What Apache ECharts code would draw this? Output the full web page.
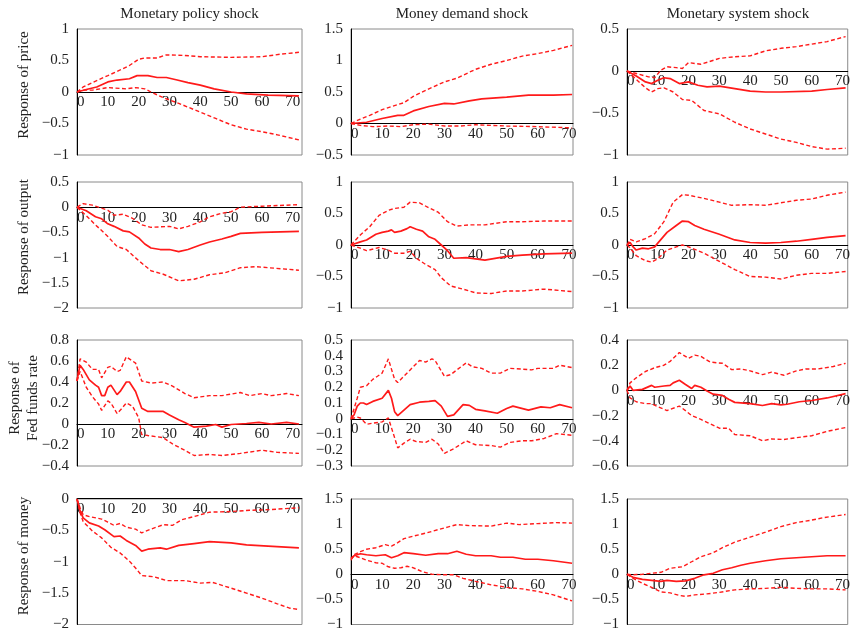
<!DOCTYPE html>
<html><head><meta charset="utf-8">
<script src="https://cdn.jsdelivr.net/npm/echarts@6/dist/echarts.min.js"></script>
<style>html,body{margin:0;padding:0;background:#fff}#c{width:853px;height:632px}</style>
</head><body><div id="c"></div><script>
const colTitles = ['Monetary policy shock', 'Money demand shock', 'Monetary system shock'];
const rowLabels = ['Response of price', 'Response of output', 'Response of\nFed funds rate', 'Response of money'];
const xTickStep = 10;
// y-axis [min, max, interval] per row/column
const yScales = [
  [[-1, 1, 0.5], [-0.5, 1.5, 0.5], [-1, 0.5, 0.5]],
  [[-2, 0.5, 0.5], [-1, 1, 0.5], [-1, 1, 0.5]],
  [[-0.4, 0.8, 0.2], [-0.3, 0.5, 0.1], [-0.6, 0.4, 0.2]],
  [[-2, 0, 0.5], [-1, 1.5, 0.5], [-1, 1.5, 0.5]]
];
const xMax = [73, 71.3, 71.7];

// ---- Response of price ----
const pricePolicyMid = [[0,0],[3,0.04],[6.4,0.08],[10,0.16],[13,0.19],[17,0.21],[19.5,0.26],[23,0.26],[26,0.23],[29,0.23],[32.5,0.19],[36,0.15],[40,0.11],[44.5,0.05],[50,0],[55,-0.03],[62,-0.05],[72,-0.06]];
const pricePolicyUp = [[0,0],[2,0.08],[5,0.15],[10,0.26],[14,0.35],[17,0.42],[20,0.52],[22,0.54],[26,0.54],[29,0.59],[35,0.58],[40,0.56],[50,0.55],[60,0.56],[66,0.6],[72,0.63]];
const pricePolicyLo = [[0,0],[2,0.03],[5,0.03],[10,0.07],[16,0.05],[19,0.07],[22,0.05],[24,0],[28,-0.09],[33,-0.18],[40,-0.32],[45,-0.42],[50,-0.52],[55,-0.59],[60,-0.63],[65,-0.68],[72,-0.76]];

const priceDemandMid = [[0,0],[5,0.02],[10,0.08],[15,0.13],[17,0.13],[20,0.2],[25,0.27],[30,0.32],[33,0.31],[38,0.36],[42,0.39],[50,0.42],[57,0.45],[65,0.45],[71,0.46]];
const priceDemandUp = [[0,0],[3,0.07],[6,0.13],[10,0.22],[15,0.3],[17,0.33],[20,0.43],[25,0.55],[30,0.66],[34,0.72],[40,0.86],[45,0.94],[50,1.0],[55,1.07],[60,1.11],[65,1.16],[71,1.24]];
const priceDemandLo = [[0,0],[3,-0.03],[7,-0.05],[12,-0.04],[16,-0.05],[20,-0.02],[25,-0.01],[30,-0.04],[35,-0.04],[40,-0.02],[45,-0.03],[50,-0.04],[60,-0.05],[71,-0.07]];

const priceSystemMid = [[0,0],[3,-0.06],[6,-0.13],[8,-0.15],[10,-0.11],[12,-0.08],[14,-0.09],[17,-0.15],[20,-0.13],[23,-0.17],[26,-0.19],[30,-0.18],[35,-0.21],[40,-0.24],[45,-0.25],[50,-0.25],[60,-0.24],[65,-0.22],[71,-0.2]];
const priceSystemUp = [[0,0],[3,-0.03],[7,-0.07],[9,-0.08],[11,0.01],[13,0.05],[16,0.04],[18,0.03],[20,0.1],[24,0.08],[30,0.15],[35,0.17],[40,0.18],[45,0.24],[50,0.27],[55,0.29],[60,0.32],[65,0.35],[71,0.41]];
const priceSystemLo = [[0,0],[3,-0.1],[6,-0.2],[8,-0.25],[10,-0.21],[12,-0.2],[15,-0.25],[18,-0.34],[21,-0.35],[25,-0.47],[30,-0.51],[35,-0.61],[40,-0.69],[45,-0.75],[50,-0.81],[55,-0.85],[60,-0.9],[65,-0.93],[71,-0.92]];

// ---- Response of output ----
const outputPolicyMid = [[0,0],[3,-0.07],[6,-0.19],[8,-0.23],[10,-0.33],[12,-0.38],[15,-0.47],[17,-0.49],[20,-0.61],[22,-0.73],[24,-0.81],[27,-0.84],[30,-0.84],[33,-0.88],[36,-0.84],[40,-0.75],[43,-0.69],[47,-0.63],[50,-0.58],[53,-0.52],[60,-0.5],[72,-0.48]];
const outputPolicyUp = [[0,0],[2,0.07],[5,0.04],[10,-0.06],[12,-0.16],[15,-0.14],[18,-0.22],[21,-0.35],[24,-0.4],[30,-0.38],[33,-0.43],[36,-0.38],[40,-0.29],[43,-0.19],[47,-0.12],[50,-0.09],[53,0],[60,0.02],[72,0.05]];
const outputPolicyLo = [[0,0],[3,-0.17],[6,-0.35],[10,-0.58],[13,-0.78],[16,-0.84],[20,-1.06],[24,-1.26],[28,-1.33],[33,-1.46],[38,-1.43],[43,-1.34],[48,-1.3],[53,-1.2],[58,-1.18],[64,-1.21],[72,-1.25]];

const outputDemandMid = [[0,0],[3,0.05],[5,0.08],[8,0.17],[10,0.2],[12,0.22],[13,0.24],[14,0.2],[16,0.22],[18,0.26],[19,0.29],[21,0.25],[23,0.22],[25,0.13],[27,0.09],[29,0],[31,-0.09],[33,-0.21],[37,-0.2],[43,-0.24],[50,-0.18],[55,-0.16],[62,-0.14],[71,-0.13]];
const outputDemandUp = [[0,0],[3,0.16],[6,0.29],[9,0.47],[12,0.55],[14,0.58],[17,0.6],[19,0.68],[22,0.67],[25,0.59],[28,0.52],[31,0.37],[34,0.3],[38,0.32],[43,0.32],[50,0.37],[55,0.37],[62,0.38],[71,0.38]];
const outputDemandLo = [[0,0],[3,-0.05],[5,-0.09],[9,-0.04],[12,-0.08],[14,-0.13],[17,-0.13],[19,-0.1],[21,-0.21],[24,-0.31],[27,-0.39],[29,-0.52],[32,-0.65],[36,-0.7],[40,-0.76],[45,-0.77],[50,-0.73],[55,-0.73],[62,-0.7],[71,-0.74]];

const outputSystemMid = [[0,0],[1,0.04],[2,-0.03],[3,-0.08],[5,-0.05],[7,-0.06],[9,-0.03],[10,0.03],[13,0.2],[16,0.31],[18,0.38],[20,0.37],[22,0.31],[25,0.25],[30,0.17],[35,0.08],[40,0.04],[45,0.03],[50,0.04],[55,0.06],[60,0.09],[65,0.12],[71,0.15]];
const outputSystemUp = [[0,0],[1,0.09],[3,0.05],[6,0.1],[9,0.18],[12,0.37],[15,0.68],[18,0.8],[20,0.79],[25,0.74],[30,0.68],[34,0.63],[40,0.64],[45,0.63],[50,0.67],[55,0.71],[60,0.73],[65,0.79],[71,0.84]];
const outputSystemLo = [[0,0],[1,-0.05],[3,-0.17],[6,-0.25],[8,-0.27],[10,-0.22],[13,-0.08],[16,-0.03],[18,0],[20,-0.03],[25,-0.13],[30,-0.26],[35,-0.39],[40,-0.5],[45,-0.51],[50,-0.54],[55,-0.48],[60,-0.45],[65,-0.45],[71,-0.42]];

// ---- Response of Fed funds rate ----
const fedPolicyMid = [[0,0.41],[0.5,0.49],[1,0.56],[2,0.52],[4,0.42],[6,0.37],[7,0.35],[8,0.27],[9,0.27],[10,0.35],[11,0.37],[13,0.28],[14,0.31],[16,0.4],[17,0.4],[19,0.31],[21,0.15],[23,0.12],[26,0.12],[28,0.12],[30,0.085],[33,0.04],[35,0.015],[38,-0.03],[42,-0.02],[45,-0.005],[47,-0.03],[50,-0.005],[55,0.005],[59,0.015],[63,0],[68,0.015],[72,0]];
const fedPolicyUp = [[0,0.41],[1,0.62],[3,0.59],[5,0.52],[7,0.52],[8,0.44],[10,0.54],[11,0.55],[13,0.5],[14,0.51],[16,0.64],[19,0.58],[21,0.41],[24,0.39],[28,0.4],[31,0.36],[35,0.29],[38,0.25],[43,0.27],[47,0.27],[53,0.3],[56,0.27],[60,0.29],[63,0.27],[68,0.29],[72,0.27]];
const fedPolicyLo = [[0,0.41],[1,0.5],[3,0.35],[5,0.26],[7,0.19],[8,0.13],[10,0.22],[11,0.2],[13,0.1],[14,0.13],[16,0.2],[18,0.17],[20,0.06],[21,-0.1],[23,-0.11],[28,-0.13],[31,-0.19],[35,-0.25],[38,-0.3],[43,-0.29],[47,-0.3],[53,-0.28],[60,-0.25],[65,-0.27],[72,-0.28]];

const fedDemandMid = [[0,0],[1,0.025],[2,0.08],[3,0.1],[4,0.1],[5,0.09],[7,0.11],[10,0.13],[12,0.18],[13,0.13],[14,0.045],[15,0.02],[17,0.055],[19,0.09],[22,0.105],[25,0.11],[27,0.115],[29,0.08],[31,0.015],[33,0.025],[36,0.09],[38,0.085],[40,0.06],[43,0.05],[47,0.035],[50,0.065],[52,0.08],[57,0.055],[61,0.075],[64,0.07],[67,0.09],[71,0.07]];
const fedDemandUp = [[0,0],[2,0.13],[3,0.2],[5,0.21],[7,0.25],[10,0.29],[12,0.38],[14,0.25],[15,0.23],[17,0.27],[19,0.31],[22,0.37],[24,0.36],[26,0.38],[27,0.37],[30,0.27],[32,0.28],[37,0.355],[39,0.33],[42,0.32],[45,0.29],[48,0.29],[51,0.32],[55,0.315],[58,0.31],[60,0.32],[65,0.32],[67,0.34],[71,0.325]];
const fedDemandLo = [[0,0],[2,0.01],[3,0.005],[5,-0.035],[8,-0.025],[10,-0.02],[12,0.005],[14,-0.12],[15,-0.185],[17,-0.155],[19,-0.13],[21,-0.145],[24,-0.15],[26,-0.13],[28,-0.16],[30,-0.22],[33,-0.19],[37,-0.14],[40,-0.165],[45,-0.17],[48,-0.18],[51,-0.15],[55,-0.14],[58,-0.14],[62,-0.125],[66,-0.095],[71,-0.105]];

const fedSystemMid = [[0,0],[1,0.035],[2,0],[5,0.008],[8,0.04],[9,0.025],[12,0.035],[14,0.04],[15,0.06],[17,0.08],[19,0.047],[21,0.015],[22,0.04],[24,0.025],[26,-0.005],[28,-0.03],[31,-0.04],[33,-0.07],[35,-0.095],[40,-0.105],[44,-0.12],[47,-0.105],[50,-0.115],[52,-0.11],[56,-0.09],[60,-0.08],[65,-0.06],[71,-0.025]];
const fedSystemUp = [[0,0],[1,0.06],[3,0.1],[6,0.15],[9,0.18],[12,0.2],[14,0.23],[17,0.3],[20,0.255],[22,0.28],[24,0.27],[27,0.225],[31,0.215],[34,0.165],[37,0.17],[40,0.155],[44,0.125],[47,0.145],[51,0.12],[55,0.155],[58,0.17],[62,0.17],[67,0.19],[71,0.215]];
const fedSystemLo = [[0,0],[1,-0.06],[3,-0.09],[6,-0.105],[8,-0.105],[10,-0.13],[13,-0.16],[14,-0.15],[17,-0.125],[19,-0.16],[21,-0.2],[24,-0.23],[27,-0.265],[30,-0.3],[33,-0.3],[35,-0.35],[40,-0.36],[44,-0.4],[47,-0.385],[51,-0.39],[55,-0.375],[60,-0.36],[65,-0.325],[71,-0.295]];

// ---- Response of money ----
const moneyPolicyMid = [[0,0],[1,-0.19],[2,-0.3],[4,-0.38],[7,-0.43],[9,-0.49],[12,-0.6],[14,-0.59],[16,-0.66],[19,-0.74],[21,-0.83],[23,-0.8],[27,-0.78],[29,-0.8],[33,-0.74],[38,-0.71],[43,-0.68],[50,-0.7],[55,-0.73],[62,-0.75],[72,-0.78]];
const moneyPolicyUp = [[0,0],[1,-0.14],[2,-0.25],[4,-0.28],[8,-0.32],[10,-0.37],[12,-0.42],[14,-0.39],[16,-0.45],[19,-0.48],[21,-0.54],[24,-0.48],[28,-0.41],[31,-0.42],[34,-0.33],[38,-0.28],[43,-0.21],[50,-0.2],[56,-0.18],[62,-0.17],[72,-0.14]];
const moneyPolicyLo = [[0,0],[1,-0.22],[2,-0.36],[5,-0.51],[8,-0.62],[11,-0.77],[14,-0.86],[17,-0.99],[19,-1.1],[21,-1.22],[25,-1.24],[29,-1.3],[35,-1.3],[40,-1.34],[44,-1.33],[50,-1.42],[55,-1.5],[60,-1.58],[65,-1.67],[69,-1.74],[72,-1.76]];

const moneyDemandMid = [[0,0.32],[1,0.37],[3,0.41],[5,0.39],[8,0.37],[11,0.39],[13,0.33],[15,0.37],[17,0.43],[20,0.41],[24,0.38],[28,0.41],[31,0.41],[34,0.46],[37,0.4],[40,0.37],[45,0.37],[48,0.34],[52,0.34],[56,0.3],[60,0.3],[65,0.27],[71,0.22]];
const moneyDemandUp = [[0,0.28],[1,0.39],[3,0.45],[5,0.5],[8,0.53],[11,0.59],[13,0.56],[15,0.63],[17,0.71],[20,0.76],[24,0.82],[28,0.89],[31,0.94],[34,0.99],[38,0.97],[45,0.96],[50,1.02],[54,0.99],[60,1.01],[66,1.03],[71,1.02]];
const moneyDemandLo = [[0,0.3],[1,0.37],[3,0.33],[5,0.28],[8,0.23],[10,0.22],[12,0.15],[14,0.12],[16,0.13],[18,0.16],[20,0.13],[23,0.05],[26,0],[30,-0.01],[33,-0.01],[36,-0.08],[40,-0.14],[45,-0.21],[50,-0.26],[55,-0.29],[60,-0.34],[65,-0.41],[71,-0.53]];

const moneySystemMid = [[0,0],[2,-0.06],[5,-0.1],[8,-0.12],[11,-0.14],[13,-0.12],[16,-0.14],[19,-0.13],[22,-0.08],[25,-0.01],[28,0.02],[31,0.09],[34,0.13],[37,0.18],[40,0.22],[45,0.27],[50,0.31],[55,0.33],[60,0.35],[65,0.37],[71,0.37]];
const moneySystemUp = [[0,0],[2,-0.01],[5,0],[8,0.02],[11,0.04],[14,0.12],[18,0.15],[21,0.25],[24,0.35],[28,0.43],[31,0.53],[35,0.64],[40,0.74],[45,0.84],[50,0.95],[55,1.03],[60,1.08],[64,1.13],[71,1.19]];
const moneySystemLo = [[0,0],[2,-0.08],[5,-0.18],[8,-0.26],[11,-0.35],[14,-0.37],[17,-0.42],[19,-0.44],[22,-0.41],[26,-0.39],[30,-0.36],[35,-0.31],[40,-0.29],[45,-0.28],[50,-0.26],[55,-0.28],[60,-0.29],[65,-0.29],[71,-0.31]];

const panels = [
  [[pricePolicyMid, pricePolicyUp, pricePolicyLo], [priceDemandMid, priceDemandUp, priceDemandLo], [priceSystemMid, priceSystemUp, priceSystemLo]],
  [[outputPolicyMid, outputPolicyUp, outputPolicyLo], [outputDemandMid, outputDemandUp, outputDemandLo], [outputSystemMid, outputSystemUp, outputSystemLo]],
  [[fedPolicyMid, fedPolicyUp, fedPolicyLo], [fedDemandMid, fedDemandUp, fedDemandLo], [fedSystemMid, fedSystemUp, fedSystemLo]],
  [[moneyPolicyMid, moneyPolicyUp, moneyPolicyLo], [moneyDemandMid, moneyDemandUp, moneyDemandLo], [moneySystemMid, moneySystemUp, moneySystemLo]]
];

// layout
const colLeft = [77, 351, 627];
const colWidth = [225, 222, 222];
const rowTop = [29, 182, 340, 499];
const rowHeight = 126;
const FONT = '"Liberation Serif", "DejaVu Serif", serif';
const RED = '#ff1a1a';

const grids = [], xAxes = [], yAxes = [], series = [];
let idx = 0;
for (let r = 0; r < 4; r++) {
  for (let c = 0; c < 3; c++) {
    const [ymin, ymax, yint] = yScales[r][c];
    // place the x axis (line + labels) at y = 0 of this panel's y scale
    const zeroOffset = -rowHeight * (0 - ymin) / (ymax - ymin);
    grids.push({ left: colLeft[c], top: rowTop[r], width: colWidth[c], height: rowHeight,
      show: true, borderColor: '#8a8a8a', borderWidth: 1, backgroundColor: 'transparent' });
    xAxes.push({ type: 'value', gridIndex: idx, min: 0, max: xMax[c], interval: xTickStep,
      position: 'bottom', offset: zeroOffset,
      axisLine: { show: true, onZero: false, lineStyle: { color: '#000', width: 1 } },
      axisTick: { show: false }, splitLine: { show: false },
      axisLabel: { margin: 3, fontSize: 15, fontFamily: FONT, color: '#222',
        showMinLabel: true, showMaxLabel: false, hideOverlap: false, alignMinLabel: 'left',
        formatter: v => (Math.abs(v % 10) < 1e-9 ? String(v) : '') } });
    yAxes.push({ type: 'value', gridIndex: idx, min: ymin, max: ymax, interval: yint,
      axisLine: { show: true, onZero: false, lineStyle: { color: '#000', width: 1 } },
      axisTick: { show: false }, splitLine: { show: false },
      axisLabel: { margin: 8, fontSize: 15, fontFamily: FONT, color: '#222', showMinLabel: true, showMaxLabel: true,
        formatter: v => String(Math.round(v * 10) / 10).replace('-', '\u2212') } });
    const [mid, up, lo] = panels[r][c];
    series.push({ type: 'line', xAxisIndex: idx, yAxisIndex: idx, data: mid, showSymbol: false, symbol: 'none',
      lineStyle: { color: RED, width: 1.7 }, z: 3, animation: false });
    [up, lo].forEach(d => series.push({ type: 'line', xAxisIndex: idx, yAxisIndex: idx, data: d, showSymbol: false, symbol: 'none',
      lineStyle: { color: RED, width: 1.4, type: [4, 2.5] }, z: 3, animation: false }));
    idx++;
  }
}

const graphics = [];
colTitles.forEach((t, c) => graphics.push({ type: 'text', x: colLeft[c] + colWidth[c] / 2, y: 14,
  style: { text: t, font: '15px ' + FONT, fill: '#222', textAlign: 'center', textVerticalAlign: 'middle', align: 'center', verticalAlign: 'middle' } }));
const rowLabelY = [85, 237, 398, 556];
rowLabels.forEach((t, r) => graphics.push({ type: 'text', x: 24, y: rowLabelY[r], rotation: Math.PI / 2,
  style: { text: t, font: '15px ' + FONT, fill: '#222', textAlign: 'center', textVerticalAlign: 'middle', align: 'center', verticalAlign: 'middle', lineHeight: 18 } }));

const chart = echarts.init(document.getElementById('c'), null, { renderer: 'canvas' });
chart.setOption({ animation: false, backgroundColor: '#fff', grid: grids, xAxis: xAxes, yAxis: yAxes, series, graphic: graphics });
</script></body></html>
